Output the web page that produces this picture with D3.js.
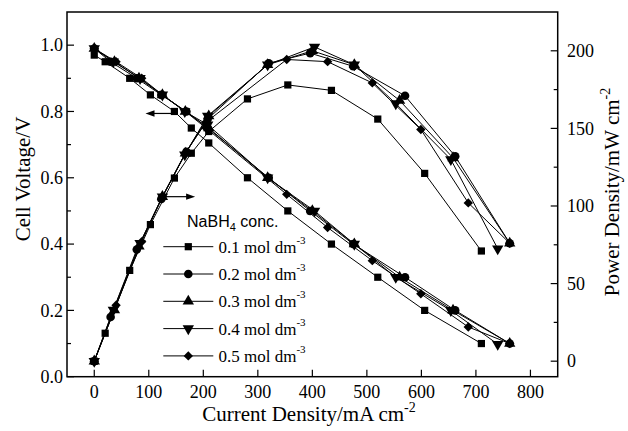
<!DOCTYPE html>
<html>
<head>
<meta charset="utf-8">
<script src="https://cdn.jsdelivr.net/npm/d3@7"></script>
<style>
  html, body { margin: 0; padding: 0; background: #fff; }
  svg { display: block; }
</style>
</head>
<body>
<svg id="chart" width="628" height="431"></svg>
<script>
// ---------------- data ----------------
const concLabels = ["0.1", "0.2", "0.3", "0.4", "0.5"];
const markerTypes = ["square", "circle", "triangle", "triangleDown", "diamond"];

// 0.1 mol dm-3
const current01 = [0, 20, 65, 103, 147, 178, 210, 281, 355, 435, 520, 606, 710];
const voltage01 = [0.97, 0.95, 0.90, 0.85, 0.80, 0.75, 0.705, 0.60, 0.50, 0.40, 0.30, 0.20, 0.10];
const power01   = [0, 18, 58.5, 88, 118, 134, 148, 169, 178, 174.5, 156, 121, 71];
// 0.2 mol dm-3
const current02 = [0, 30, 78, 123, 169, 208, 320, 396, 475, 570, 662, 762];
const voltage02 = [0.99, 0.95, 0.90, 0.85, 0.80, 0.75, 0.60, 0.50, 0.40, 0.30, 0.20, 0.10];
const power02   = [0, 28.5, 72, 104.5, 135, 156, 192, 198.5, 190, 171, 132, 76];
// 0.3 mol dm-3
const current03 = [0, 37, 82, 125, 167, 210, 318, 400, 477, 560, 658, 762];
const voltage03 = [0.99, 0.95, 0.90, 0.85, 0.80, 0.75, 0.60, 0.50, 0.40, 0.30, 0.20, 0.10];
const power03   = [0, 33, 74, 106, 134, 158, 191, 200, 191, 168, 131, 76];
// 0.4 mol dm-3
const current04 = [0, 35, 84, 125, 166, 208, 318, 404, 477, 553, 654, 740];
const voltage04 = [0.99, 0.95, 0.90, 0.85, 0.80, 0.76, 0.60, 0.50, 0.40, 0.30, 0.20, 0.098];
const power04   = [0, 33, 76, 106, 133, 158, 191, 202.5, 191, 166, 130, 72.5];
// 0.5 mol dm-3
const current05 = [0, 40, 87, 125, 167, 205, 353, 428, 510, 599, 686, 762];
const voltage05 = [0.99, 0.95, 0.90, 0.85, 0.80, 0.75, 0.55, 0.45, 0.35, 0.25, 0.15, 0.10];
const power05   = [0, 36, 77, 106, 134, 154, 194.4, 193, 179.3, 149.3, 102, 76];

const xTicks = [0, 100, 200, 300, 400, 500, 600, 700, 800];
const yLeftTicks = [0.0, 0.2, 0.4, 0.6, 0.8, 1.0];
const yLeftMinor = [0.1, 0.3, 0.5, 0.7, 0.9];
const yRightTicks = [0, 50, 100, 150, 200];
const yRightMinor = [25, 75, 125, 175];

// arrow annotations: [fromX, toX, yValue] (left axis units)
const arrowToLeft  = [148, 94, 0.794];
const arrowToRight = [126, 185, 0.543];

const currents = [current01, current02, current03, current04, current05];
const voltages = [voltage01, voltage02, voltage03, voltage04, voltage05];
const powers   = [power01, power02, power03, power04, power05];

// ---------------- layout ----------------
const svg = d3.select("#chart");
const pL = 67, pR = 557.7, pT = 12, pB = 376.7;
const serif = "'Liberation Serif', 'Times New Roman', serif";
const sans = "'Liberation Sans', Arial, sans-serif";

const x = d3.scaleLinear().domain([-50, 850]).range([pL, pR]);
const yL = d3.scaleLinear().domain([0, 1.1]).range([pB, pT]);
const yR = d3.scaleLinear().domain([-10, 225]).range([pB, pT]);

function symbolPath(type) {
  switch (type) {
    case "square": return d3.symbol().type(d3.symbolSquare).size(52)();
    case "circle": return d3.symbol().type(d3.symbolCircle).size(58)();
    case "triangle": return d3.symbol().type(d3.symbolTriangle).size(56)();
    case "triangleDown": return d3.symbol().type(d3.symbolTriangle).size(56)();
    case "diamond": return d3.symbol().type(d3.symbolSquare).size(44)();
  }
}
function symbolRot(type) {
  if (type === "triangleDown") return 180;
  if (type === "diamond") return 45;
  return 0;
}

const plot = svg.append("g");

concLabels.forEach((c, i) => {
  const vData = currents[i].map((cur, j) => ({ x: cur, y: voltages[i][j] }));
  const pData = currents[i].map((cur, j) => ({ x: cur, y: powers[i][j] }));
  const g = plot.append("g");
  const lineV = d3.line().x(d => x(d.x)).y(d => yL(d.y));
  const lineP = d3.line().x(d => x(d.x)).y(d => yR(d.y));
  g.append("path").attr("d", lineV(vData)).attr("fill", "none").attr("stroke", "#000").attr("stroke-width", 1);
  g.append("path").attr("d", lineP(pData)).attr("fill", "none").attr("stroke", "#000").attr("stroke-width", 1);
  const t = markerTypes[i];
  const p = symbolPath(t), r = symbolRot(t);
  g.selectAll(".mv").data(vData).enter().append("path")
    .attr("d", p).attr("fill", "#000")
    .attr("transform", d => `translate(${x(d.x)},${yL(d.y)}) rotate(${r})`);
  g.selectAll(".mp").data(pData).enter().append("path")
    .attr("d", p).attr("fill", "#000")
    .attr("transform", d => `translate(${x(d.x)},${yR(d.y)}) rotate(${r})`);
});

// arrows
function arrow(a, dir) {
  const x0 = x(a[0]), x1 = x(a[1]), yy = yL(a[2]);
  svg.append("line").attr("x1", x0).attr("x2", x1 - dir * 6).attr("y1", yy).attr("y2", yy)
    .attr("stroke", "#000").attr("stroke-width", 1.2);
  svg.append("path")
    .attr("d", `M${x1},${yy} L${x1 - dir * 9},${yy - 3.2} L${x1 - dir * 9},${yy + 3.2} Z`)
    .attr("fill", "#000");
}
arrow(arrowToLeft, -1);
arrow(arrowToRight, 1);

// frame
svg.append("rect").attr("x", pL).attr("y", pT).attr("width", pR - pL).attr("height", pB - pT)
  .attr("fill", "none").attr("stroke", "#000").attr("stroke-width", 1.5);

// ticks (inward)
const ax = svg.append("g").attr("stroke", "#000").attr("stroke-width", 1.2);
xTicks.forEach(v => ax.append("line").attr("x1", x(v)).attr("x2", x(v)).attr("y1", pB).attr("y2", pB - 7));
yLeftTicks.forEach(v => ax.append("line").attr("x1", pL).attr("x2", pL + 7).attr("y1", yL(v)).attr("y2", yL(v)));
yLeftMinor.forEach(v => ax.append("line").attr("x1", pL).attr("x2", pL + 4).attr("y1", yL(v)).attr("y2", yL(v)));
yRightTicks.forEach(v => ax.append("line").attr("x1", pR).attr("x2", pR - 7).attr("y1", yR(v)).attr("y2", yR(v)));
yRightMinor.forEach(v => ax.append("line").attr("x1", pR).attr("x2", pR - 4).attr("y1", yR(v)).attr("y2", yR(v)));

// tick labels
const tl = svg.append("g").attr("font-family", serif).attr("font-size", 18).attr("fill", "#000");
xTicks.forEach(v => tl.append("text").attr("x", x(v)).attr("y", 398).attr("text-anchor", "middle").text(v));
yLeftTicks.forEach(v => tl.append("text").attr("x", 63).attr("y", yL(v)).attr("dy", "0.34em").attr("text-anchor", "end").text(d3.format(".1f")(v)));
yRightTicks.forEach(v => tl.append("text").attr("x", 567).attr("y", yR(v)).attr("dy", "0.34em").attr("text-anchor", "start").text(v));

// axis titles
const xt = svg.append("text").attr("x", 309).attr("y", 421).attr("text-anchor", "middle")
  .attr("font-family", serif).attr("font-size", 21).attr("fill", "#000");
xt.append("tspan").text("Current Density/mA cm");
xt.append("tspan").attr("font-size", 14).attr("dy", -9).text("-2");

svg.append("text").attr("transform", "translate(29.5,179) rotate(-90)").attr("text-anchor", "middle")
  .attr("font-family", serif).attr("font-size", 21).attr("fill", "#000").text("Cell Voltage/V");

const rt = svg.append("text").attr("transform", "translate(618.5,192) rotate(-90)").attr("text-anchor", "middle")
  .attr("font-family", serif).attr("font-size", 21).attr("fill", "#000");
rt.append("tspan").text("Power Density/mW cm");
rt.append("tspan").attr("font-size", 14).attr("dy", -9).text("-2");

// legend
const lg = svg.append("g");
const lt = lg.append("text").attr("x", 187).attr("y", 227).attr("font-family", sans).attr("font-size", 16).attr("fill", "#000");
lt.append("tspan").text("NaBH");
lt.append("tspan").attr("font-size", 11).attr("dy", 4).text("4");
lt.append("tspan").attr("dy", -4).text(" conc.");

const rowY = [246.7, 274, 301.3, 328.6, 355.9];
concLabels.forEach((c, i) => {
  const yy = rowY[i];
  lg.append("line").attr("x1", 163.3).attr("x2", 213.3).attr("y1", yy).attr("y2", yy)
    .attr("stroke", "#000").attr("stroke-width", 1);
  lg.append("path").attr("d", symbolPath(markerTypes[i])).attr("fill", "#000")
    .attr("transform", `translate(188.3,${yy}) rotate(${symbolRot(markerTypes[i])})`);
  const tx = lg.append("text").attr("x", 218.5).attr("y", yy + 6).attr("font-family", serif)
    .attr("font-size", 17).attr("fill", "#000");
  tx.append("tspan").text(c + " mol dm");
  tx.append("tspan").attr("font-size", 11).attr("dy", -9).text("-3");
});
</script>
</body>
</html>
